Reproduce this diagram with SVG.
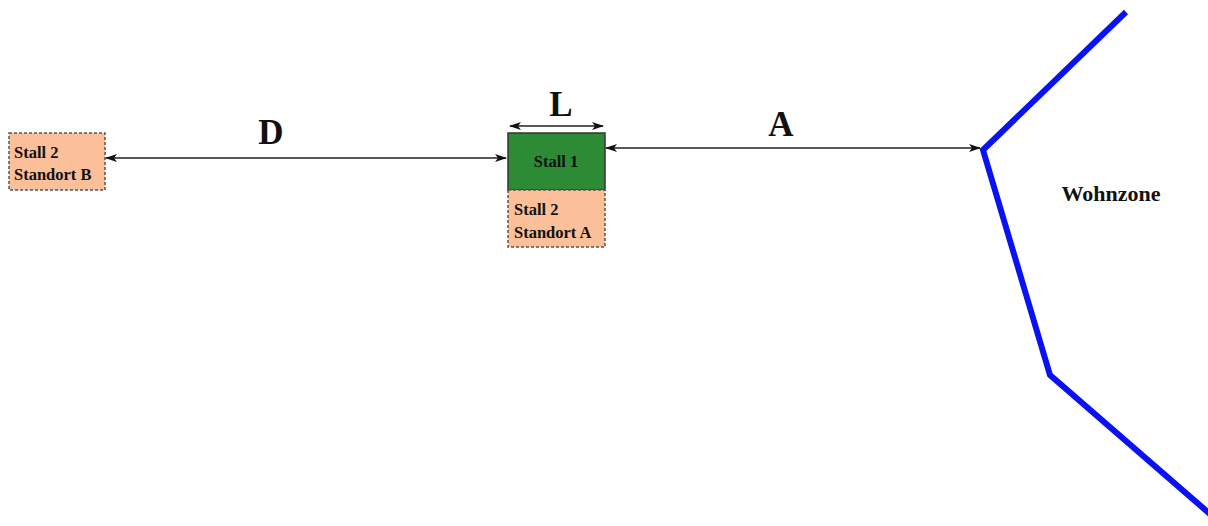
<svg xmlns="http://www.w3.org/2000/svg" width="1208" height="526" viewBox="0 0 1208 526">
  <style>
    .box-orange { fill: #fbbf99; stroke: #555; stroke-width: 1.5; stroke-dasharray: 3 2; }
    .box-green { fill: #2e8b35; stroke: #333; stroke-width: 1.5; }
    .lbl { font-family: "Liberation Serif", "Times New Roman", serif; font-weight: bold; fill: #111; }
    .small { font-size: 16.5px; }
    .big { font-size: 35px; }
    .dim { stroke: #222; stroke-width: 1.3; fill: none; marker-start: url(#ah); marker-end: url(#ah); }
    .zone { stroke: #0a12f5; stroke-width: 6; fill: none; stroke-linejoin: miter; }
  </style>
  <defs>
    <marker id="ah" viewBox="0 0 12 8" refX="11" refY="4" markerWidth="12" markerHeight="8" markerUnits="userSpaceOnUse" orient="auto-start-reverse">
      <path d="M0,0 L12,4 L0,8 L3,4 Z" fill="#111"/>
    </marker>
  </defs>

  <!-- residential zone boundary -->
  <g id="wohnzone">
    <polyline class="zone" points="1126,12 983,150 1050,375 1210,514"/>
    <text class="lbl" x="1111" y="201" font-size="22" text-anchor="middle">Wohnzone</text>
  </g>

  <g id="stall2-b">
    <rect class="box-orange" x="9" y="133" width="96" height="57"/>
    <text class="lbl small" x="14" y="158">Stall 2</text>
    <text class="lbl small" x="14" y="180">Standort B</text>
  </g>

  <g id="stall1">
    <rect class="box-green" x="508" y="133" width="97" height="57"/>
    <text class="lbl small" x="556" y="167" text-anchor="middle">Stall 1</text>
  </g>

  <g id="stall2-a">
    <rect class="box-orange" x="508" y="190" width="97" height="57"/>
    <text class="lbl small" x="514" y="215">Stall 2</text>
    <text class="lbl small" x="514" y="238">Standort A</text>
  </g>

  <g id="connectors">
    <line class="dim" x1="106" y1="158" x2="506" y2="158"/>
    <line class="dim" x1="510" y1="126" x2="603" y2="126"/>
    <line class="dim" x1="606" y1="148" x2="980" y2="148"/>
  </g>

  <g id="labels">
    <text class="lbl big" x="271" y="144" text-anchor="middle">D</text>
    <text class="lbl big" x="561" y="116" text-anchor="middle">L</text>
    <text class="lbl big" x="781" y="136" text-anchor="middle">A</text>
  </g>
</svg>
